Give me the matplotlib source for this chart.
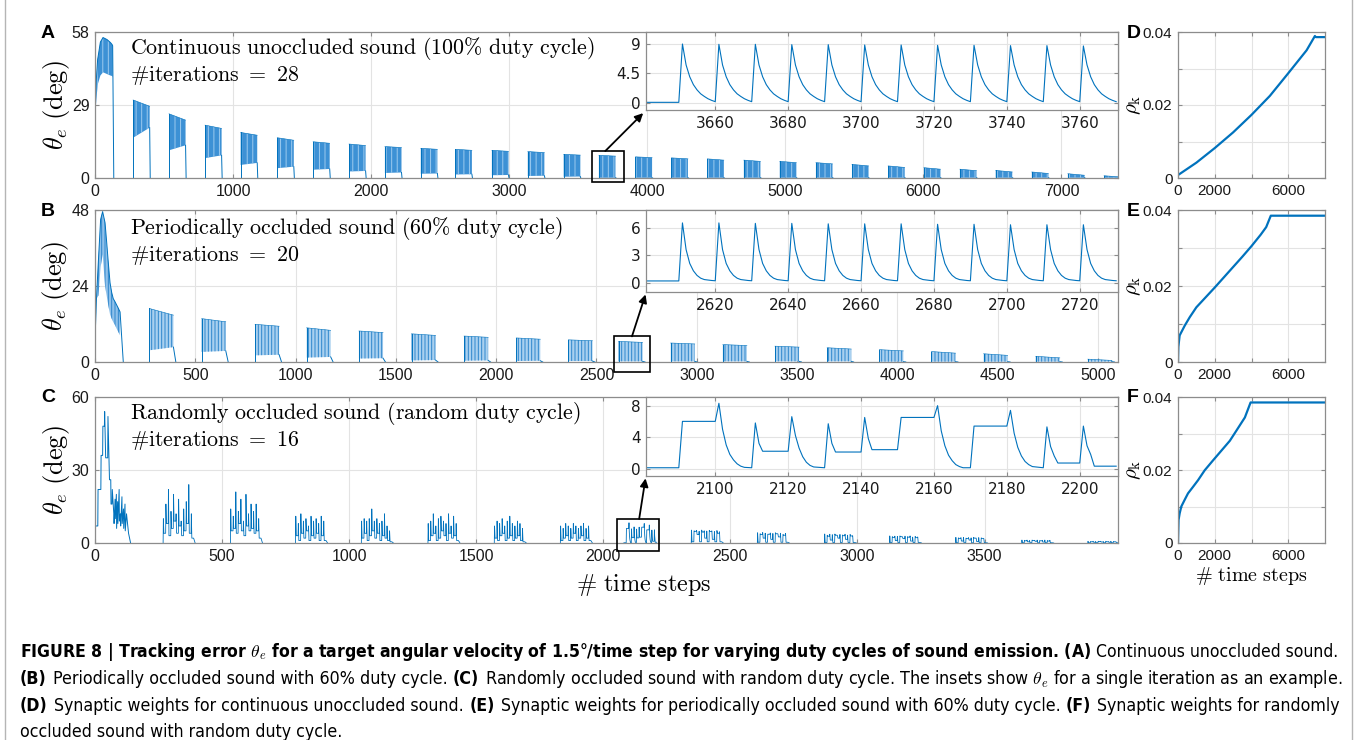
import matplotlib.pyplot as plt
from matplotlib.lines import Line2D
from matplotlib.patches import Rectangle

plt.rcParams['mathtext.fontset'] = 'cm'
plt.rcParams['font.family'] = ['Liberation Sans', 'DejaVu Sans']
plt.rcParams['hatch.linewidth'] = 0.7

W, H = 1358, 740
BLUE = '#0072BD'
GRID = '#e3e3e3'
SPINE = '#8c8c8c'

# ---------- panel A : continuous sound (28 iterations) ----------
a0_x = [0, 7, 19, 39, 58, 87, 112, 124, 128]
a0_top = [25, 37, 47, 54, 55.8, 55, 53.8, 53, 52.5]
a0_low = [23, 29, 37, 40.7, 42, 41.3, 40.7, 40.5, 40]
a_start = [276, 536, 797, 1055, 1320, 1580, 1840, 2100, 2360, 2610, 2875, 3135, 3395, 3650,
           3915, 4175, 4435, 4700, 4960, 5222, 5483, 5745, 6004, 6265, 6524, 6786, 7047, 7309]
a_top_s = [31, 25.5, 21, 18.1, 16, 14.4, 13.5, 12.5, 11.8, 11.4, 11, 10.5, 9.4, 9.0,
           8.4, 8, 7.6, 7.1, 6.6, 6.1, 5.4, 4.8, 4.1, 3.5, 3.0, 2.4, 1.7, 0.9]
a_top_e = [28.5, 23, 19.7, 17, 15, 13.8, 12.9, 12.1, 11.4, 11, 10.6, 10.1, 9.1, 8.7,
           8.1, 7.6, 7.1, 6.6, 6.1, 5.6, 4.8, 4.2, 3.5, 2.9, 2.4, 1.8, 1.1, 0.4]
a_low_s = [16, 11, 7.9, 5.2, 3.9, 3.3, 2.6, 2.0, 1.7, 1.4, 1.1, 0.8, 0.5, 0.1,
           0.1, 0.1, 0.1, 0.1, 0.1, 0.1, 0.1, 0.1, 0.1, 0.1, 0.1, 0.1, 0.1, 0.1]
a_low_e = [20, 13, 9, 6, 4.5, 3.6, 2.8, 2.2, 1.8, 1.5, 1.2, 0.9, 0.6, 0.1,
           0.1, 0.1, 0.1, 0.1, 0.1, 0.1, 0.1, 0.1, 0.1, 0.1, 0.1, 0.1, 0.1, 0.1]

# inset A (one iteration)
ia_peak_x = [3651, 3661, 3671, 3681, 3691, 3701, 3711, 3721, 3731, 3741, 3751, 3761]
ia_peak_y = [9.0, 8.95, 8.95, 8.9, 8.9, 8.85, 8.85, 8.8, 8.8, 8.75, 8.75, 8.7]
ia_decay = [5.8, 4.0, 2.8, 2.0, 1.4, 1.0, 0.65, 0.4, 0.2]

# ---------- panel B : 60% duty cycle (20 iterations) ----------
b0_x = [0, 8, 17, 28, 38, 50, 58, 66, 75, 83, 91, 100, 108, 116, 125]
b0_top = [7, 21, 32, 45, 47.5, 44, 38, 31.6, 25, 22, 20, 19, 18, 17, 15.8]
b0_low = [6, 20, 21, 30, 34, 24, 21, 18, 15, 13.7, 12.6, 11.6, 10.5, 9.5, 8.4]
b_start = [271, 532, 798, 1055, 1316, 1578, 1840, 2100, 2360, 2610, 2870, 3130, 3390,
           3650, 3910, 4170, 4430, 4690, 4950]
b_top_s = [16.9, 13.7, 11.9, 10.8, 9.8, 8.9, 8.2, 7.6, 7.0, 6.5, 6.0, 5.5, 5.0, 4.5,
           3.9, 3.3, 2.6, 1.8, 0.9]
b_top_e = [14.8, 12.7, 11.3, 10.0, 9.3, 8.4, 7.8, 7.2, 6.7, 6.2, 5.7, 5.2, 4.7, 4.1,
           3.5, 2.8, 2.1, 1.3, 0.5]
b_low_s = [3.7, 3.2, 2.1, 1.4, 1.1, 0.5, 0.4, 0.3, 0.3, 0.2, 0.2, 0.2, 0.2, 0.2,
           0.1, 0.1, 0.1, 0.1, 0.1]
b_low_e = [4.7, 3.5, 2.3, 1.6, 1.2, 0.6, 0.5, 0.4, 0.3, 0.2, 0.2, 0.2, 0.2, 0.2,
           0.1, 0.1, 0.1, 0.1, 0.1]

ib_peak_x = [2611, 2621, 2631, 2641, 2651, 2661, 2671, 2681, 2691, 2701, 2711, 2721]
ib_peak_y = [6.5, 6.5, 6.45, 6.45, 6.4, 6.4, 6.4, 6.35, 6.35, 6.3, 6.3, 6.3]
ib_decay = [3.6, 2.1, 1.3, 0.8, 0.5, 0.35, 0.3, 0.25, 0.22]

# ---------- panel C : random duty cycle (16 iterations) ----------
c0_pts = [(0, 7), (11, 7), (12, 22), (23, 22), (24, 36), (30, 36), (31, 48), (37, 48),
          (38, 54), (42, 35), (50, 35), (51, 52), (57, 26), (62, 26), (63, 16), (67, 16),
          (68, 22), (74, 12), (75, 8), (79, 18), (80, 10), (84, 20), (85, 6), (89, 17),
          (90, 8), (95, 22), (96, 9), (100, 12), (101, 7), (106, 19), (107, 8), (112, 14),
          (113, 6), (118, 16), (119, 5), (124, 12), (128, 8), (132, 4), (140, 0)]
c_start = [268, 533, 789, 1048, 1310, 1571, 1831, 2346, 2606, 2870, 3126, 3386, 3646, 3906]
c_peaks = [
    [10, 16, 22, 13, 20, 12, 18, 9, 14, 17, 24, 12],
    [14, 11, 21, 13, 18, 9, 20, 12, 16, 13, 16, 10],
    [11, 8, 12, 9, 10, 7, 11, 9, 10, 8, 11, 9],
    [9, 10, 9, 10, 14, 9, 10, 8, 9, 12, 7, 5],
    [8, 9, 12, 7, 10, 11, 9, 8, 12, 7, 11, 8],
    [7, 9, 8, 10, 7, 9, 11, 8, 7, 9, 8, 6],
    [7, 6, 8, 7, 6, 8, 7, 6, 7, 8, 6, 7],
    [5.3, 5.0, 5.2, 4.8, 5.3, 5.0, 4.9, 5.2, 5.0, 4.7, 5.1, 4.6],
    [4.2, 3.8, 4.3, 4.0, 3.6, 4.1, 3.9, 4.2, 3.7, 4.0, 3.5, 3.9],
    [3.7, 3.2, 3.6, 3.4, 3.7, 3.1, 3.5, 3.3, 3.6, 3.2, 3.5, 3.0],
    [2.9, 2.6, 2.8, 2.7, 2.9, 2.5, 2.8, 2.6, 2.9, 2.4, 2.7, 2.5],
    [2.3, 2.1, 2.2, 2.3, 2.0, 2.2, 2.1, 2.3, 2.0, 2.2, 2.1, 1.8],
    [1.2, 1.1, 1.2, 1.0, 1.2, 1.1, 1.2, 1.0, 1.1, 1.2, 1.0, 1.1],
    [0.7, 0.6, 0.7, 0.6, 0.7, 0.7, 0.6, 0.7, 0.6, 0.7, 0.6, 0.5],
]
c_bases = [
    [4, 8, 3, 6, 9, 4, 7, 3, 5, 8, 4, 2],
    [5, 6, 4, 8, 5, 3, 7, 5, 6, 4, 5, 2],
    [3, 1, 4, 2, 5, 1, 3, 2, 4, 1, 3, 1],
    [2, 4, 1, 3, 5, 2, 4, 1, 3, 2, 1, 0.5],
    [1, 3, 4, 1, 2, 5, 3, 1, 4, 2, 3, 1],
    [2, 1, 3, 4, 1, 2, 3, 1, 2, 3, 1, 0.5],
    [1, 2, 3, 1, 2, 4, 1, 2, 3, 1, 2, 1],
    [0.5, 4.8, 3.5, 0.5, 4.5, 2, 0.5, 4.7, 1.5, 0.5, 4, 0.5],
    [0.3, 3.5, 2, 0.3, 3.6, 1.5, 0.3, 3.8, 2.5, 0.3, 3.2, 0.3],
    [0.2, 2.8, 1.2, 0.2, 3.2, 2.0, 0.2, 3.0, 1.5, 0.2, 2.9, 0.2],
    [0.2, 2.3, 1.0, 0.2, 2.6, 1.8, 0.2, 2.4, 0.8, 0.2, 2.2, 0.2],
    [0.1, 1.9, 0.8, 0.1, 1.8, 1.2, 0.1, 2.0, 0.6, 0.1, 1.9, 0.1],
    [0.1, 0.9, 0.5, 0.1, 1.0, 0.7, 0.1, 0.9, 0.4, 0.1, 0.8, 0.1],
    [0.1, 0.5, 0.3, 0.1, 0.6, 0.4, 0.1, 0.5, 0.3, 0.1, 0.5, 0.1],
]
# inset C (one iteration, also drawn in the main panel)
ic_pts = [(2081, 0.1), (2090, 0.1), (2091, 6.0), (2100, 6.0), (2101, 8.3), (2102, 5.0),
          (2103, 3.0), (2104, 1.8), (2105, 1.1), (2106, 0.6), (2107, 0.3), (2108, 0.15),
          (2110, 0.1), (2111, 5.8), (2112, 3.2), (2113, 2.2), (2120, 2.2), (2121, 6.6),
          (2122, 4.2), (2123, 2.6), (2124, 1.5), (2125, 0.8), (2126, 0.4), (2127, 0.2),
          (2130, 0.1), (2131, 5.7), (2132, 3.2), (2133, 2.1), (2140, 2.1), (2141, 6.5),
          (2142, 3.8), (2143, 2.4), (2150, 2.4), (2151, 6.5), (2160, 6.5), (2161, 8.0),
          (2162, 4.8), (2163, 2.9), (2164, 1.7), (2165, 1.0), (2166, 0.5), (2167, 0.25),
          (2168, 0.1), (2170, 0.1), (2171, 5.4), (2180, 5.4), (2181, 7.4), (2182, 4.5),
          (2183, 2.7), (2184, 1.6), (2185, 0.9), (2186, 0.5), (2187, 0.25), (2190, 0.1),
          (2191, 5.3), (2192, 2.8), (2193, 1.6), (2194, 0.7), (2200, 0.7), (2201, 5.4),
          (2202, 2.9), (2203, 1.8), (2204, 0.3), (2210, 0.3)]

# ---------- synaptic weights D, E, F ----------
d_x = [0, 500, 1000, 2000, 3000, 4000, 5000, 6000, 7000, 7450, 7500, 8000]
d_y = [0.0008, 0.0025, 0.0042, 0.0082, 0.0125, 0.0173, 0.0225, 0.0287, 0.035, 0.0389, 0.0386, 0.0386]
e_x = [0, 20, 90, 370, 640, 1000, 1500, 2000, 2500, 3000, 3500, 4000, 4500, 4800, 5050, 8000]
e_y = [0, 0.004, 0.007, 0.0096, 0.0118, 0.0144, 0.017, 0.0196, 0.0223, 0.025, 0.0277,
       0.0305, 0.0335, 0.0355, 0.0385, 0.0385]
f_x = [0, 30, 90, 180, 360, 545, 820, 1090, 1450, 1900, 2360, 2820, 3180, 3640, 3950, 8000]
f_y = [0, 0.0063, 0.0081, 0.01, 0.0118, 0.0136, 0.0154, 0.0172, 0.0199, 0.0226, 0.0253,
       0.028, 0.0308, 0.0344, 0.0385, 0.0385]


def box(l, t, r, b):
    return [l / W, 1 - b / H, (r - l) / W, (b - t) / H]


def style(ax, fs=11.5):
    ax.tick_params(direction='in', top=True, right=True, length=3, width=0.8,
                   color=SPINE, labelsize=fs, labelcolor='#1a1a1a', pad=4)
    for s in ax.spines.values():
        s.set_color(SPINE)
        s.set_linewidth(0.9)
    ax.grid(True, color=GRID, lw=0.8)
    ax.set_axisbelow(True)


def bursts(ax, starts, dur, top_s, top_e, low_s, low_e, tail, face, streak, hatch):
    for s, t0, t1, l0, l1 in zip(starts, top_s, top_e, low_s, low_e):
        e = s + dur
        ax.fill_between([s, e], [l0, l1], [t0, t1], facecolor=face, edgecolor=streak,
                        hatch=hatch, lw=0)
        ax.plot([s, s], [0, t0], color=BLUE, lw=0.7)
        ax.plot([s, e], [t0, t1], color=BLUE, lw=0.4)
        ax.plot([e, e + tail], [l1, 0], color=BLUE, lw=0.7)


def spike_train(x0, flat, px, py, decay):
    xs, ys = [x0, px[0] - 1], [flat, flat]
    for x, y in zip(px, py):
        xs += [x] + [x + i + 1 for i in range(len(decay))]
        ys += [y] + decay
    return xs, ys


fig = plt.figure(figsize=(W / 100, H / 100), dpi=100)

# ---- main panels ----
axA = fig.add_axes(box(95, 32, 1118, 178))
axB = fig.add_axes(box(95, 210, 1118, 362))
axC = fig.add_axes(box(95, 397, 1118, 543))
for ax in (axA, axB, axC):
    style(ax)

axA.fill_between(a0_x, a0_low, a0_top, facecolor='#3d91d5', edgecolor='#9ccaef',
                 hatch='|||', lw=0)
axA.plot([a0_x[0]] + a0_x + [136], [0] + a0_top + [0], color=BLUE, lw=0.7)
bursts(axA, a_start, 120, a_top_s, a_top_e, a_low_s, a_low_e, 4,
       '#3d91d5', '#9ccaef', '|||')
axA.set_xlim(0, 7410)
axA.set_ylim(0, 58)
axA.set_yticks([0, 29, 58])
axA.set_xticks(range(0, 7001, 1000))

axB.fill_between(b0_x, b0_low, b0_top, facecolor='#8fc1ea', edgecolor='#2f86cc',
                 hatch='|||||', lw=0)
axB.plot(b0_x + [141], b0_top + [0], color=BLUE, lw=0.7)
bursts(axB, b_start, 120, b_top_s, b_top_e, b_low_s, b_low_e, 12,
       '#a9d0ef', '#2f86cc', '|||||')
axB.set_xlim(0, 5100)
axB.set_ylim(0, 48)
axB.set_yticks([0, 24, 48])
axB.set_xticks(range(0, 5001, 500))

axC.plot([p[0] for p in c0_pts], [p[1] for p in c0_pts], color=BLUE, lw=0.7)
for s, pk, bs in zip(c_start, c_peaks, c_bases):
    xs, ys = [s], [0]
    for j, (p, b) in enumerate(zip(pk, bs)):
        x = s + 10 * j
        xs += [x + 1, x + 3, x + 10]
        ys += [p, b, b]
    xs.append(xs[-1] + 6)
    ys.append(0)
    axC.plot(xs, ys, color=BLUE, lw=0.6)
axC.plot([p[0] for p in ic_pts], [p[1] for p in ic_pts], color=BLUE, lw=0.6)
axC.set_xlim(0, 4025)
axC.set_ylim(0, 60)
axC.set_yticks([0, 30, 60])
axC.set_xticks(range(0, 3501, 500))

math_kw = dict(fontsize=15.8, color='black', ha='left', va='center')
axA.text(0.034, 0.89, r'$\mathrm{Continuous\ unoccluded\ sound\ (100\%\ duty\ cycle)}$',
         transform=axA.transAxes, **math_kw)
axA.text(0.034, 0.70, r'$\#\mathrm{iterations}\ =\ 28$', transform=axA.transAxes, **math_kw)
axB.text(0.034, 0.88, r'$\mathrm{Periodically\ occluded\ sound\ (60\%\ duty\ cycle)}$',
         transform=axB.transAxes, **math_kw)
axB.text(0.034, 0.70, r'$\#\mathrm{iterations}\ =\ 20$', transform=axB.transAxes, **math_kw)
axC.text(0.034, 0.89, r'$\mathrm{Randomly\ occluded\ sound\ (random\ duty\ cycle)}$',
         transform=axC.transAxes, **math_kw)
axC.text(0.034, 0.70, r'$\#\mathrm{iterations}\ =\ 16$', transform=axC.transAxes, **math_kw)

for ax in (axA, axB, axC):
    ax.set_ylabel(r'$\theta_e\ \mathrm{(deg)}$', fontsize=19, labelpad=0)
fig.text(644 / W, 1 - 585 / H, r'$\#\ \mathrm{time\ steps}$', fontsize=17.5,
         ha='center', va='center')

# ---- insets ----
iA = fig.add_axes(box(646, 32, 1118, 110))
iB = fig.add_axes(box(646, 210, 1118, 292))
iC = fig.add_axes(box(646, 397, 1118, 476))
for ax in (iA, iB, iC):
    style(ax, 11)
    ax.set_facecolor('white')
    ax.tick_params(labelfontfamily='DejaVu Sans')

xs, ys = spike_train(3641, 0.1, ia_peak_x, ia_peak_y, ia_decay)
iA.plot(xs, ys, color=BLUE, lw=0.8)
iA.set_xlim(3641, 3770.5)
iA.set_ylim(-1.07, 10.83)
iA.set_yticks([0, 4.5, 9])
iA.set_yticklabels(['0', '4.5', '9'])
iA.set_xticks(range(3660, 3761, 20))

xs, ys = spike_train(2601, 0.2, ib_peak_x, ib_peak_y, ib_decay)
iB.plot(xs, ys, color=BLUE, lw=0.8)
iB.set_xlim(2601, 2730.5)
iB.set_ylim(-1.0, 7.9)
iB.set_yticks([0, 3, 6])
iB.set_xticks(range(2620, 2721, 20))

iC.plot([p[0] for p in ic_pts], [p[1] for p in ic_pts], color=BLUE, lw=0.8)
iC.set_xlim(2081, 2210.5)
iC.set_ylim(-0.95, 9.1)
iC.set_yticks([0, 4, 8])
iC.set_xticks(range(2100, 2201, 20))

# zoom boxes and arrows (main-axis data coords)
for ax, ins, (x0, x1, y0, y1), (ax_x, ax_y), tip in [
        (axA, iA, (3600, 3835, -1.6, 10.7), (3696, 10.7), (-0.006, -0.04)),
        (axB, iB, (2585, 2765, -3.3, 8.1), (2677, 8.1), (-0.001, -0.03)),
        (axC, iC, (2055, 2220, -3.3, 9.9), (2141, 9.9), (-0.001, -0.03))]:
    ax.add_patch(Rectangle((x0, y0), x1 - x0, y1 - y0, fill=False, ec='black',
                           lw=1.2, clip_on=False, zorder=5))
    ax.annotate('', xy=tip, xycoords=ins.transAxes, xytext=(ax_x, ax_y), textcoords='data',
                arrowprops=dict(arrowstyle='-|>', color='black', lw=1.3,
                                mutation_scale=12, shrinkA=0, shrinkB=0), zorder=6)

# ---- weight panels ----
axD = fig.add_axes(box(1178, 32, 1325, 178))
axE = fig.add_axes(box(1178, 210, 1325, 362))
axF = fig.add_axes(box(1178, 397, 1325, 543))
for ax, xv, yv in ((axD, d_x, d_y), (axE, e_x, e_y), (axF, f_x, f_y)):
    style(ax, 11)
    ax.plot(xv, yv, color=BLUE, lw=1.6)
    ax.set_xlim(0, 8000)
    ax.set_ylim(0, 0.04)
    ax.set_xticks([0, 2000, 4000, 6000])
    ax.set_xticklabels(['0', '2000', '', '6000'])
    ax.set_yticks([0, 0.01, 0.02, 0.03, 0.04])
    ax.set_yticklabels(['0', '', '0.02', '', '0.04'])
    ax.set_ylabel(r'$\rho_\mathrm{k}$', fontsize=15, labelpad=0)
axF.set_xlabel(r'$\#\ \mathrm{time\ steps}$', fontsize=14.5, labelpad=2)

# panel letters
for lab, x, y in [('A', 41, 33), ('B', 41, 212), ('C', 41, 398),
                  ('D', 1127, 33), ('E', 1127, 211), ('F', 1127, 398)]:
    fig.text(x / W, 1 - y / H, lab, fontsize=14, fontweight='bold', ha='left', va='center')

# outer frame
for x in (5, 1352):
    fig.add_artist(Line2D([x / W, x / W], [0, 1], transform=fig.transFigure,
                          color='#b5b5b5', lw=1))

# ---- caption ----
cap_lines = [
    [('FIGURE 8 | Tracking error $\\theta_e$ for a target angular velocity of 1.5\u00b0/time step '
      'for varying duty cycles of sound emission. (A)', True), ('Continuous unoccluded sound.', False)],
    [('(B)', True), ('Periodically occluded sound with 60% duty cycle.', False), ('(C)', True),
     ('Randomly occluded sound with random duty cycle. The insets show $\\theta_e$ for a single '
      'iteration as an example.', False)],
    [('(D)', True), ('Synaptic weights for continuous unoccluded sound.', False), ('(E)', True),
     ('Synaptic weights for periodically occluded sound with 60% duty cycle.', False),
     ('(F)', True), ('Synaptic weights for randomly', False)],
    [('occluded sound with random duty cycle.', False)],
]
cap_y = [657, 684, 711, 737]
cap_kw = dict(family=['DejaVu Sans'], fontstretch='condensed')
renderer = fig.canvas.get_renderer()
base = 12.0
fs_last = base
for i, (segs, y) in enumerate(zip(cap_lines, cap_y)):
    widths = []
    for txt, bold in segs:
        t = fig.text(0, 0, txt, fontsize=base, fontweight='bold' if bold else 'normal', **cap_kw)
        widths.append(t.get_window_extent(renderer).width)
        t.remove()
    gap = 0.34 * base * 100 / 72
    total = sum(widths) + gap * (len(segs) - 1)
    scale = 1320 / total if i < 3 else fs_last / base
    fs = base * scale
    fs_last = fs
    x = 20
    for (txt, bold), w in zip(segs, widths):
        fig.text(x / W, 1 - y / H, txt, fontsize=fs, fontweight='bold' if bold else 'normal',
                 ha='left', va='baseline', **cap_kw)
        x += (w + gap) * scale

fig.savefig('out.png', dpi=100)
